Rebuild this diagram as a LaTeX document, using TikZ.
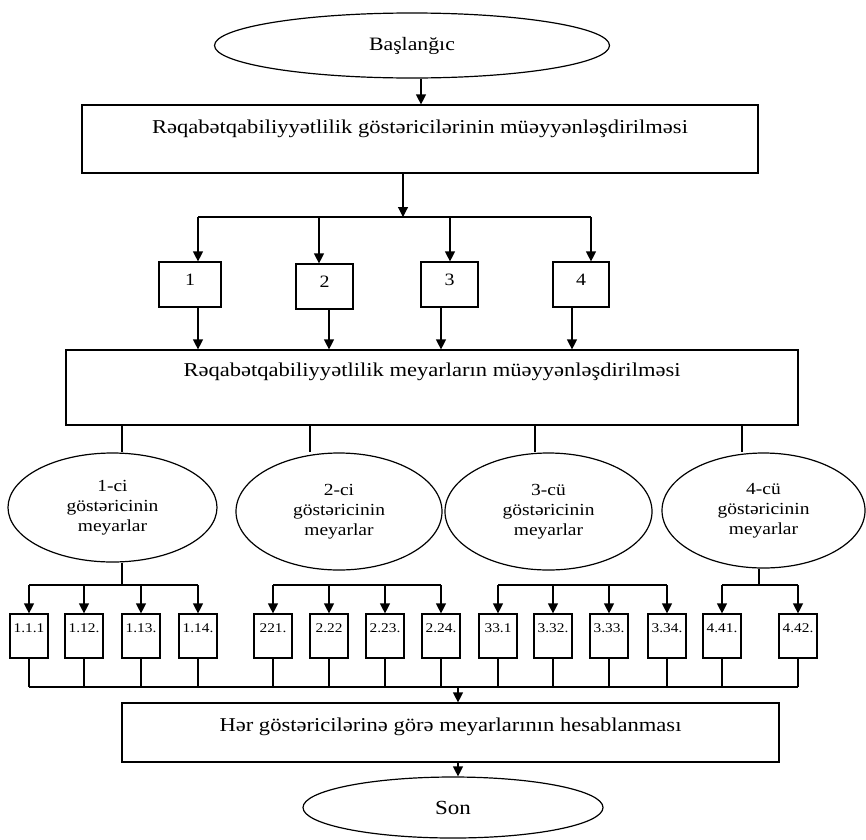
\documentclass[tikz,border=0pt]{standalone}
\usepackage{fontspec}
\setmainfont[FakeStretch=1.15]{Liberation Serif}
\usetikzlibrary{shapes.geometric,arrows.meta}

\begin{document}
\begin{tikzpicture}[x=0.75pt,y=0.75pt,yscale=-1,xscale=1,line width=0.9pt,
  arr/.style={-{Triangle[width=7.5pt,length=7.5pt]}},
  oval/.style={draw,ellipse,inner sep=0pt,align=center,font=\fontsize{12.7}{15}\selectfont},
  bigbox/.style={draw,rectangle,inner sep=0pt,font=\fontsize{14.7}{17}\selectfont},
  numbox/.style={draw,rectangle,inner sep=0pt,minimum width=42.75pt,text height=17.8pt,text depth=15.95pt,font=\fontsize{13}{15}\selectfont},
  subbox/.style={draw,rectangle,inner sep=0pt,minimum width=28.5pt,text height=13.8pt,text depth=19.2pt,font=\fontsize{10}{12}\selectfont}]
\useasboundingbox (0,0) rectangle (866,839);

% Shape: Ellipse
\node[oval,minimum width=296.25pt,minimum height=48.75pt,font=\fontsize{14.2}{17}\selectfont] (start) at (412,45.5) {Başlanğıc};
% Shape: Rectangle
\node[bigbox,minimum width=507pt,text height=21.4pt,text depth=29.6pt] (b1) at (420,139) {Rəqabətqabiliyyətlilik göstəricilərinin müəyyənləşdirilməsi};

% Shape: Rectangle
\node[numbox,minimum width=46.5pt] (p1) at (190,284.5) {1};
\node[numbox] (p2) at (324.5,286.5) {2};
\node[numbox] (p3) at (449.5,284.5) {3};
\node[numbox,minimum width=42pt] (p4) at (581,284.5) {4};

% Shape: Rectangle
\node[bigbox,minimum width=549pt,text height=19.9pt,text depth=36.35pt] (b2) at (432,387.5) {Rəqabətqabiliyyətlilik meyarların müəyyənləşdirilməsi};

% Shape: Ellipse
\node[oval,minimum width=156.75pt,minimum height=81.75pt] (e1) at (112.5,507.5) {1-ci\\göstəricinin\\meyarlar};
\node[oval,minimum width=154.5pt,minimum height=87.75pt] (e2) at (339,511.5) {2-ci\\göstəricinin\\meyarlar};
\node[oval,minimum width=155.25pt,minimum height=87.75pt] (e3) at (548.5,511.5) {3-cü\\göstəricinin\\meyarlar};
\node[oval,minimum width=152.25pt,minimum height=86.25pt] (e4) at (763.5,510.5) {4-cü\\göstəricinin\\meyarlar};

% Shape: Rectangle
\foreach \x/\t/\n in {29/1.1.1/s11,84/1.12./s12,141/1.13./s13,198/1.14./s14,
  273/221./s21,329/2.22/s22,385/2.23./s23,441/2.24./s24,
  498/33.1/s31,553/3.32./s32,609/3.33./s33,667/3.34./s34,
  722/4.41./s41,798/4.42./s42}
  \node[subbox] (\n) at (\x,636) {\t};

% Shape: Rectangle
\node[bigbox,minimum width=492.75pt,text height=21.4pt,text depth=22.85pt] (b3) at (450.5,732.5) {Hər göstəricilərinə görə meyarlarının hesablanması};
% Shape: Ellipse
\node[oval,minimum width=225pt,minimum height=45.75pt,font=\fontsize{15}{18}\selectfont] (son) at (453,807.5) {Son};

%Straight Lines
\coordinate (j1) at (403,217);
\draw[arr] (421,0 |- start.south) -- (421,0 |- b1.north);
\draw[arr] (j1 |- b1.south) -- (j1);
\draw (198,217) -- (591,217);
\foreach \x/\n in {198/p1,319/p2,450/p3,591/p4}
  \draw[arr] (\x,217) -- (\x,0 |- \n.north);
\foreach \x/\n in {198/p1,329/p2,441/p3,572/p4}
  \draw[arr] (\x,0 |- \n.south) -- (\x,0 |- b2.north);
\foreach \x/\n in {122/e1,310/e2,535/e3,742/e4}
  \draw (\x,0 |- b2.south) -- (\x,0 |- \n.north);

%Straight Lines
\draw (122,0 |- e1.south) -- (122,585);
\draw (759,0 |- e4.south) -- (759,585);
\draw (s11.north |- 0,585) -- (s14.north |- 0,585);
\draw (s21.north |- 0,585) -- (s24.north |- 0,585);
\draw (s31.north |- 0,585) -- (s34.north |- 0,585);
\draw (s41.north |- 0,585) -- (s42.north |- 0,585);
\foreach \n in {s11,s12,s13,s14,s21,s22,s23,s24,s31,s32,s33,s34,s41,s42}
  {\draw[arr] (\n.north |- 0,585) -- (\n.north);
   \draw (\n.south) -- (\n.south |- 0,687);}
\draw (s11.south |- 0,687) -- (s42.south |- 0,687);

%Straight Lines
\coordinate (j2) at (458,687);
\draw[arr] (j2) -- (j2 |- b3.north);
\draw[arr] (j2 |- b3.south) -- (j2 |- son.north);

\end{tikzpicture}
\end{document}
